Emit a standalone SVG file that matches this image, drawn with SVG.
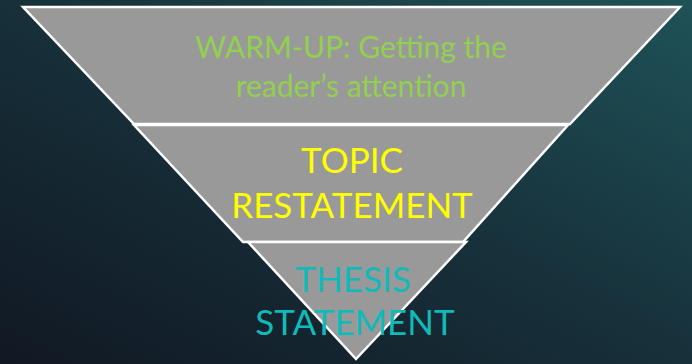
<svg xmlns="http://www.w3.org/2000/svg" width="692" height="364" viewBox="0 0 692 364">
  <defs>
    <linearGradient id="bg" x1="0" y1="1" x2="1" y2="0">
      <stop offset="0" stop-color="#111823"/>
      <stop offset="0.5" stop-color="#17303a"/>
      <stop offset="1" stop-color="#1f5258"/>
    </linearGradient>
    <style>
      .band { fill: #999999; stroke: #ffffff; stroke-width: 2.5; stroke-linejoin: miter; }
      .t { font-family: "Lato", "Open Sans", "Liberation Sans", sans-serif; font-weight: 400; text-anchor: middle; }
      .warm { font-size: 30px; fill: #92D050; }
      .topic { font-size: 35px; fill: #FFFF00; }
      .thesis { font-size: 35px; fill: #12B9B9; }
    </style>
  </defs>
  <rect x="0" y="0" width="692" height="364" fill="url(#bg)"/>
  <g id="warmup">
    <polygon class="band" points="23,7 680,7 570,124 134,124"/>
    <text class="t warm" x="351" y="58">WARM-UP: Getting the<tspan x="351" dy="39">reader’s attention</tspan></text>
  </g>
  <g id="topic">
    <polygon class="band" points="134,125 568,125 463,242 243,242"/>
    <text class="t topic" x="352" y="173">TOPIC<tspan x="352" dy="45">RESTATEMENT</tspan></text>
  </g>
  <g id="thesis">
    <polygon class="band" points="248,242 466,242 356,359"/>
    <text class="t thesis" x="353" y="292">THESIS<tspan x="355" dy="43">STATEMENT</tspan></text>
  </g>
  <g id="connectors"/>
</svg>
